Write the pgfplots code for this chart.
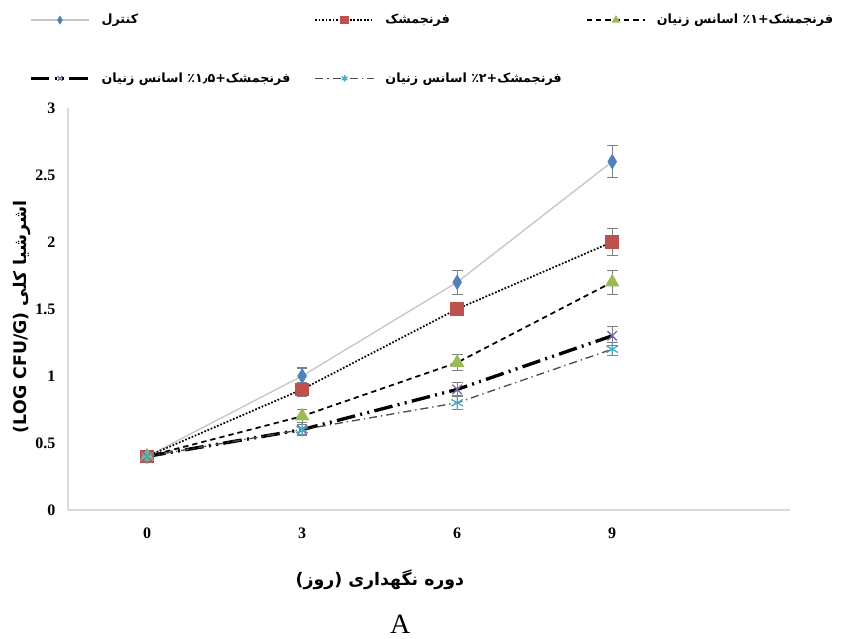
\documentclass[border=0pt]{standalone}
\usepackage{pgfplots}
\pgfplotsset{compat=1.18}
\usepackage{pgfplotstable}
\usepackage{fontspec}
\setmainfont{Liberation Serif}
\newfontfamily\arabicfont[Script=Arabic]{DejaVu Sans}
\TeXXeTstate=1

\definecolor{ctrlblue}{HTML}{4F81BD}
\definecolor{fred}{HTML}{C0504D}
\definecolor{fgreen}{HTML}{9BBB59}
\definecolor{fpurple}{HTML}{8064A2}
\definecolor{fcyan}{HTML}{4BACC6}
\definecolor{axisgray}{HTML}{D9D9D9}
\definecolor{errgray}{HTML}{7F7F7F}

% day  mean  sd
\pgfplotstableread{
x y e
0 0.40 0.03
3 1.00 0.06
6 1.70 0.09
9 2.60 0.12
}\ctrl
\pgfplotstableread{
x y e
0 0.40 0.03
3 0.90 0.05
6 1.50 0.05
9 2.00 0.10
}\farang
\pgfplotstableread{
x y e
0 0.40 0.03
3 0.70 0.05
6 1.10 0.06
9 1.70 0.09
}\zenone
\pgfplotstableread{
x y e
0 0.40 0.03
3 0.60 0.04
6 0.90 0.05
9 1.30 0.07
}\zenonefive
\pgfplotstableread{
x y e
0 0.40 0.03
3 0.60 0.04
6 0.80 0.05
9 1.20 0.05
}\zentwo

\pgfplotsset{
  errs/.style={
    error bars/.cd, y dir=both, y explicit,
    error bar style={draw=errgray, line width=0.9pt, solid},
    error mark options={rotate=90, mark size=4pt, draw=errgray, line width=0.9pt, solid},
  },
  longlegend/.style={
    legend image code/.code={
      \draw[mark repeat=2, mark phase=2, mark size=2.5pt]
        plot coordinates {(0pt,0pt) (22pt,0pt) (44pt,0pt)};
    }
  },
}

\begin{document}
\begin{tikzpicture}
\path[use as bounding box] (0,0) rectangle (630.75pt,478.5pt);
\begin{axis}[
    at={(51pt,96pt)}, anchor=south west,
    scale only axis,
    width=541.5pt, height=301.5pt,
    xmin=-1.53, xmax=12.44,
    ymin=0, ymax=3,
    xtick={0,3,6,9},
    ytick={0,0.5,1,1.5,2,2.5,3},
    axis x line=bottom, axis y line=left,
    axis line style={draw=axisgray, line width=1.2pt, -},
    major tick length=0pt,
    /pgf/number format/assume math mode=true,
    tick label style={font=\bfseries\fontsize{12}{12}\selectfont},
    yticklabel style={xshift=-6pt},
    xticklabel style={yshift=-10pt},
    xlabel={\arabicfont\bfseries\fontsize{13}{13}\selectfont\beginR دوره نگهداری (روز)\endR},
    xlabel style={at={(axis description cs:0.432,-0.174)}, anchor=center},
    ylabel={\arabicfont\bfseries\fontsize{13}{13}\selectfont\beginR اشرشیا کلی \beginL(LOG CFU/G)\endL\endR},
    ylabel style={at={(axis description cs:-0.064,0.48)}, anchor=center},
    legend columns=3,
    legend cell align=left,
    legend style={
      at={(axis description cs:-0.06,1.247)}, anchor=north west,
      draw=none, fill=none,
      font=\arabicfont\bfseries\fontsize{9.5}{9.5}\selectfont,
      row sep=31pt, column sep=6pt,
      /tikz/every even column/.append style={column sep=16pt},
    },
    clip=false,
]
\addplot[draw=gray!45, line width=1pt, mark=diamond*, mark size=5pt,
    mark options={fill=ctrlblue, draw=ctrlblue, solid, xscale=0.8},
    longlegend, errs] table[x=x, y=y, y error=e] {\ctrl};
\addlegendentry{\beginR کنترل\endR}

\addplot[draw=black, line width=1.3pt, dash pattern=on 1.3pt off 1.3pt,
    mark=square*, mark size=4.5pt,
    mark options={fill=fred, draw=fred, solid},
    longlegend, errs] table[x=x, y=y, y error=e] {\farang};
\addlegendentry{\beginR فرنجمشک\endR}

\addplot[draw=black, line width=1.3pt, dash pattern=on 4pt off 3pt,
    mark=triangle*, mark size=5pt,
    mark options={fill=fgreen, draw=fgreen, solid},
    longlegend, errs] table[x=x, y=y, y error=e] {\zenone};
\addlegendentry{\beginR فرنجمشک\kern0pt+\kern0pt۱\kern0pt٪ اسانس زنیان\endR}

\addplot[draw=black, line width=2.5pt,
    dash pattern=on 14pt off 4pt on 1.5pt off 4pt on 1.5pt off 4pt,
    mark=x, mark size=5pt,
    mark options={draw=fpurple, solid, line width=1pt},
    longlegend, errs] table[x=x, y=y, y error=e] {\zenonefive};
\addlegendentry{\beginR فرنجمشک\kern0pt+\kern0pt\beginL۱٫۵\endL\kern0pt٪ اسانس زنیان\endR}

\addplot[draw=black!70, line width=1pt,
    dash pattern=on 6pt off 3pt on 1pt off 3pt,
    mark=asterisk, mark size=5pt,
    mark options={draw=fcyan, solid, line width=1pt},
    longlegend, errs] table[x=x, y=y, y error=e] {\zentwo};
\addlegendentry{\beginR فرنجمشک\kern0pt+\kern0pt۲\kern0pt٪ اسانس زنیان\endR}

\node[font=\fontsize{21}{21}\selectfont] at (axis description cs:0.46,-0.283) {A};
\end{axis}
\end{tikzpicture}
\end{document}
